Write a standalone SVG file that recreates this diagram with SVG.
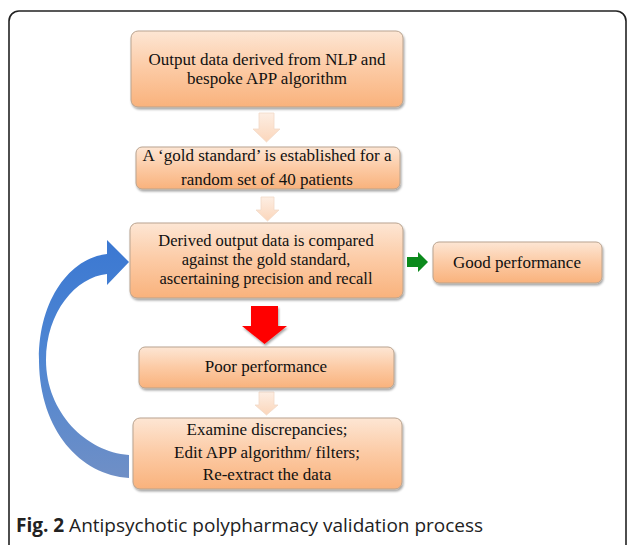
<svg xmlns="http://www.w3.org/2000/svg" width="629" height="545" viewBox="0 0 629 545">
<defs>
<linearGradient id="boxg" x1="0" y1="0" x2="0" y2="1">
<stop offset="0" stop-color="#fde6d4"/>
<stop offset="0.5" stop-color="#fccaa4"/>
<stop offset="1" stop-color="#f9b27c"/>
</linearGradient>
<linearGradient id="paleg" x1="0" y1="0" x2="0" y2="1">
<stop offset="0" stop-color="#fdeee3"/>
<stop offset="1" stop-color="#fbd6bb"/>
</linearGradient>
<linearGradient id="blueg" x1="0" y1="0" x2="0" y2="1">
<stop offset="0" stop-color="#3b78d2"/>
<stop offset="0.5" stop-color="#4f86d2"/>
<stop offset="1" stop-color="#6f8fc6"/>
</linearGradient>
<filter id="sh" x="-10%" y="-10%" width="130%" height="140%">
<feDropShadow dx="1" dy="2" stdDeviation="1.2" flood-color="#000" flood-opacity="0.35"/>
</filter>
</defs>
<style>
.box{fill:url(#boxg);stroke:#b9a38f;stroke-width:1;filter:url(#sh)}
.t{font-family:"Liberation Serif","Times New Roman",serif;font-size:17px;fill:#111;text-anchor:middle}
.t3{font-size:16.5px}
.pale{fill:url(#paleg);stroke:#f1d9c8;stroke-width:0.8}
.cap{font-family:"Open Sans","Liberation Sans",sans-serif;font-size:19px;fill:#222}
</style>
<rect x="9" y="11" width="617" height="580" rx="10" ry="10" fill="none" stroke="#222" stroke-width="1.6"/>
<g id="connectors">
<path class="pale" d="M259,113 H274 V129 H280 L266.5,142 L253,129 H259 Z"/>
<path class="pale" d="M261,197 H274 V210 H279 L267.5,221 L256,210 H261 Z"/>
<path class="pale" d="M259,392 H274 V405 H278 L266.5,415 L255,405 H259 Z"/>
<path d="M251,306 H278 V326 H287 L264.5,344 L242,326 H251 Z" fill="#ff0000" filter="url(#sh)"/>
<path d="M407,257 H418 V252 L428,262 L418,272 V267 H407 Z" fill="#0b8a1c"/>
<path d="M129,478 C80,475 40,430 39,362 C38,300 70,258 107,254 L107,240 L129,262 L107,285 L107,274 C76,277 46,312 46,360 C46,412 86,452 129,455 Z" fill="url(#blueg)"/>
</g>
<g id="n1">
<rect class="box" x="131" y="31" width="272" height="76" rx="7"/>
<text class="t" x="267" y="65">Output data derived from NLP and</text>
<text class="t" x="267" y="84">bespoke APP algorithm</text>
</g>
<g id="n2">
<rect class="box" x="136" y="147" width="264" height="42" rx="6"/>
<text class="t" x="267" y="161">A ‘gold standard’ is established for a</text>
<text class="t" x="267" y="185">random set of 40 patients</text>
</g>
<g id="n3">
<rect class="box" x="130" y="223" width="273" height="75" rx="7"/>
<text class="t t3" x="266" y="246">Derived output data is compared</text>
<text class="t t3" x="266" y="265">against the gold standard,</text>
<text class="t t3" x="266" y="284">ascertaining precision and recall</text>
</g>
<g id="n4">
<rect class="box" x="433" y="242" width="169" height="41" rx="6"/>
<text class="t" x="517" y="268">Good performance</text>
</g>
<g id="n5">
<rect class="box" x="139" y="347" width="255" height="41" rx="6"/>
<text class="t" x="266" y="372">Poor performance</text>
</g>
<g id="n6">
<rect class="box" x="133" y="418" width="269" height="71" rx="7"/>
<text class="t" x="267" y="435">Examine discrepancies;</text>
<text class="t" x="267" y="458">Edit APP algorithm/ filters;</text>
<text class="t" x="267" y="480">Re-extract the data</text>
</g>
<text class="cap" x="16" y="532"><tspan font-weight="bold">Fig. 2</tspan> Antipsychotic polypharmacy validation process</text>
</svg>
